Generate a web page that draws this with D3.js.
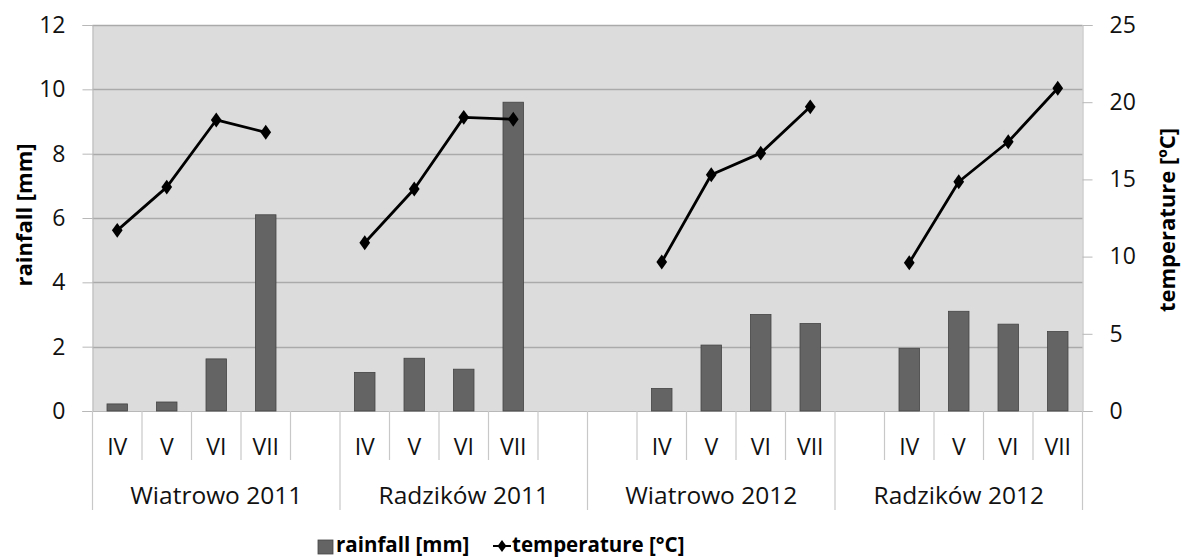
<!DOCTYPE html>
<html>
<head>
<meta charset="utf-8">
<script src="https://cdn.jsdelivr.net/npm/d3@7"></script>
<style>
  html, body { margin: 0; padding: 0; background: #fff; }
  svg { display: block; font-family: "Open Sans", "Liberation Sans", sans-serif; }
</style>
</head>
<body>
<svg id="chart" width="1182" height="558"></svg>
<script>
// ---- data ----
const groups = ["Wiatrowo 2011", "Radzików 2011", "Wiatrowo 2012", "Radzików 2012"];
const months = [
  ["IV", "V", "VI", "VII", ""],
  ["IV", "V", "VI", "VII", ""],
  ["", "IV", "V", "VI", "VII"],
  ["", "IV", "V", "VI", "VII"]
];
const rainfall = [
  [0.22, 0.28, 1.62, 6.1, null],
  [1.2, 1.64, 1.3, 9.6, null],
  [null, 0.7, 2.05, 3.0, 2.72],
  [null, 1.95, 3.1, 2.7, 2.47]
];
const temperature = [
  [11.7, 14.5, 18.85, 18.05, null],
  [10.9, 14.38, 19.02, 18.9, null],
  [null, 9.65, 15.3, 16.7, 19.7],
  [null, 9.6, 14.85, 17.44, 20.9]
];
const rainTicks = [0, 2, 4, 6, 8, 10, 12];
const tempTicks = [0, 5, 10, 15, 20, 25];
const seriesNames = ["rainfall [mm]", "temperature [°C]"];

// ---- build slots ----
const slots = [];
groups.forEach((g, gi) => months[gi].forEach((m, mi) => {
  slots.push({ id: gi + "-" + mi, group: g, gi, month: m, rain: rainfall[gi][mi], temp: temperature[gi][mi] });
}));

const svg = d3.select("#chart");
const L = 92.5, R = 1082.5, T = 25, B = 411;

const x = d3.scaleBand().domain(slots.map(d => d.id)).range([L, R]).paddingInner(0).paddingOuter(0);
const yL = d3.scaleLinear().domain([0, 12]).range([B, T]);
const yR = d3.scaleLinear().domain([0, 25]).range([B, T]);

const FONT = "'Open Sans', sans-serif";

// plot background
svg.append("rect").attr("x", L).attr("y", T).attr("width", R - L).attr("height", B - T).attr("fill", "#dcdcdc");

// gridlines
svg.append("g").selectAll("line").data(rainTicks.filter(t => t > 0)).join("line")
  .attr("x1", L).attr("x2", R).attr("y1", d => Math.round(yL(d)) + 0.5).attr("y2", d => Math.round(yL(d)) + 0.5)
  .attr("stroke", "#aaaaaa").attr("stroke-width", 1.3);

// left axis
const axL = svg.append("g").attr("transform", `translate(${L},0)`)
  .call(d3.axisLeft(yL).tickValues(rainTicks).tickSize(10).tickPadding(17).tickFormat(d3.format("d")));
axL.select(".domain").attr("stroke", "#b8b8b8");
axL.selectAll(".tick line").attr("stroke", "#b8b8b8");
axL.selectAll("text").attr("font-size", 23).attr("font-family", FONT).attr("fill", "#111");

// right axis
const axR = svg.append("g").attr("transform", `translate(${R},0)`)
  .call(d3.axisRight(yR).tickValues(tempTicks).tickSize(10).tickPadding(17).tickFormat(d3.format("d")));
axR.select(".domain").attr("stroke", "#b8b8b8");
axR.selectAll(".tick line").attr("stroke", "#b8b8b8");
axR.selectAll("text").attr("font-size", 23).attr("font-family", FONT).attr("fill", "#111");

// baseline
svg.append("line").attr("x1", L - 10).attr("x2", R).attr("y1", B + 0.5).attr("y2", B + 0.5).attr("stroke", "#b8b8b8");

// bars
const bw = 20.5;
svg.append("g").selectAll("rect").data(slots.filter(d => d.rain != null)).join("rect")
  .attr("x", d => x(d.id) + x.bandwidth() / 2 - bw / 2)
  .attr("y", d => yL(d.rain))
  .attr("width", bw)
  .attr("height", d => B - yL(d.rain))
  .attr("fill", "#646464").attr("stroke", "#444").attr("stroke-width", 0.8);

// temperature line
const line = d3.line().defined(d => d.temp != null)
  .x(d => x(d.id) + x.bandwidth() / 2).y(d => yR(d.temp));
svg.append("path").datum(slots).attr("d", line).attr("fill", "none").attr("stroke", "#000").attr("stroke-width", 2.8).attr("stroke-linejoin", "round");
const diamond = d3.symbol().type(d3.symbolDiamond).size(64);
svg.append("g").selectAll("path").data(slots.filter(d => d.temp != null)).join("path")
  .attr("d", diamond)
  .attr("transform", d => `translate(${x(d.id) + x.bandwidth() / 2},${yR(d.temp)}) scale(1.25,1)`)
  .attr("fill", "#000");

// category axis: month separators
const sepColor = "#c8c8c8";
const cat = svg.append("g");
slots.forEach((d, i) => {
  const x0 = x(d.id);
  const isGroupStart = i % 5 === 0;
  cat.append("line").attr("x1", x0).attr("x2", x0).attr("y1", B).attr("y2", isGroupStart ? 510 : 460)
    .attr("stroke", sepColor).attr("stroke-width", 1.2);
});
cat.append("line").attr("x1", R).attr("x2", R).attr("y1", B).attr("y2", 510).attr("stroke", sepColor).attr("stroke-width", 1.2);
cat.selectAll("text.month").data(slots.filter(d => d.month)).join("text").attr("class", "month")
  .attr("x", d => x(d.id) + x.bandwidth() / 2).attr("y", 447).attr("dy", "0.35em")
  .attr("text-anchor", "middle").attr("font-size", 23).attr("font-family", FONT).attr("fill", "#111")
  .text(d => d.month);
cat.selectAll("text.group").data(groups).join("text").attr("class", "group")
  .attr("x", (g, gi) => (x(gi + "-0") + x(gi + "-4") + x.bandwidth()) / 2).attr("y", 495).attr("dy", "0.35em")
  .attr("text-anchor", "middle").attr("font-size", 24.5).attr("font-family", FONT).attr("fill", "#111")
  .text(d => d);

// axis titles
svg.append("text").attr("transform", `translate(24,${(T + B) / 2 - 3}) rotate(-90)`)
  .attr("text-anchor", "middle").attr("dy", "0.35em").attr("font-size", 22).attr("font-weight", "bold").attr("font-family", FONT)
  .text("rainfall [mm]");
svg.append("text").attr("transform", `translate(1167,${(T + B) / 2 + 2}) rotate(-90)`)
  .attr("text-anchor", "middle").attr("dy", "0.35em").attr("font-size", 22).attr("font-weight", "bold").attr("font-family", FONT)
  .text("temperature [ºC]");

// legend
const lg = svg.append("g");
const LY = 552;
lg.append("rect").attr("x", 318).attr("y", 540).attr("width", 15).attr("height", 14).attr("fill", "#646464").attr("stroke", "#444").attr("stroke-width", 0.8);
lg.append("text").attr("x", 336).attr("y", LY).attr("font-size", 20.5).attr("font-weight", "bold").attr("font-family", FONT).text(seriesNames[0]);
lg.append("line").attr("x1", 493).attr("x2", 511).attr("y1", 546).attr("y2", 546).attr("stroke", "#000").attr("stroke-width", 2);
lg.append("path").attr("d", d3.symbol().type(d3.symbolDiamond).size(40)).attr("transform", "translate(502,546) scale(1.3,1)").attr("fill", "#000");
lg.append("text").attr("x", 512).attr("y", LY).attr("font-size", 20.5).attr("font-weight", "bold").attr("font-family", FONT).text(seriesNames[1]);
</script>
</body>
</html>
